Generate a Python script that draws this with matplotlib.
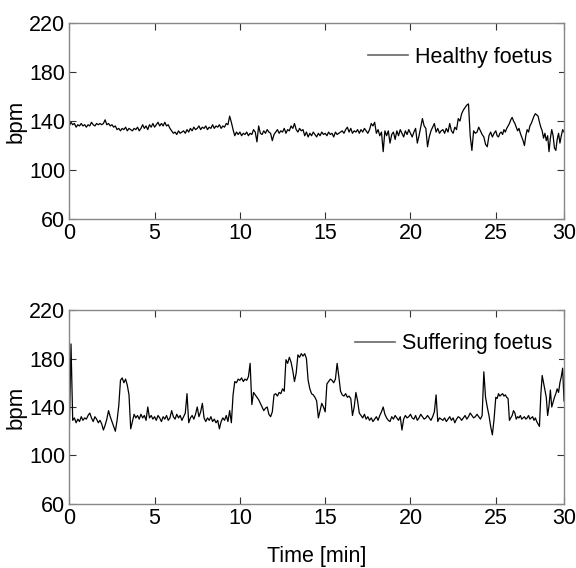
import numpy as np
import matplotlib.pyplot as plt

plt.rcParams['font.family'] = ['Liberation Sans', 'DejaVu Sans']

# heart rate, one value every 0.1 min, 0 .. 30 min
healthy = [
    136, 139, 137, 138, 135, 137, 136, 138, 136, 137,
    135, 137, 136, 139, 137, 136, 138, 137, 138, 137,
    138, 141, 137, 138, 136, 137, 135, 136, 133, 134,
    132, 134, 133, 135, 132, 134, 133, 132, 134, 133,
    135, 132, 134, 137, 134, 136, 133, 137, 135, 138,
    135, 137, 139, 136, 138, 136, 139, 136, 137, 134,
    132, 130, 131, 129, 132, 130, 131, 132, 130, 133,
    131, 134, 132, 135, 133, 134, 136, 133, 135, 134,
    136, 133, 135, 134, 137, 134, 136, 135, 137, 134,
    136, 135, 138, 137, 144, 139, 133, 128, 131, 129,
    131, 128, 130, 129, 131, 128, 130, 129, 133, 131,
    123, 136, 130, 129, 132, 130, 133, 131, 130, 124,
    129, 131, 133, 130, 132, 131, 134, 130, 133, 132,
    136, 134, 138, 133, 131, 134, 132, 133, 128, 131,
    127, 130, 128, 131, 129, 127, 130, 128, 131, 129,
    130, 128, 131, 129, 130, 127, 131, 129, 130, 131,
    132, 130, 133, 135, 131, 134, 130, 132, 131, 133,
    130, 133, 131, 134, 132, 130, 133, 138, 136, 139,
    130, 133, 128, 131, 115, 132, 128, 132, 122, 129,
    131, 125, 132, 128, 133, 130, 127, 132, 129, 133,
    130, 127, 131, 134, 122, 128, 135, 142, 136, 134,
    119, 127, 132, 135, 138, 131, 134, 130, 132, 133,
    130, 134, 131, 138, 132, 130, 135, 133, 142, 140,
    146, 149, 151, 153, 154, 128, 116, 132, 130, 131,
    135, 132, 129, 127, 121, 119, 128, 131, 127, 130,
    132, 128, 127, 130, 131, 129, 133, 131, 134, 136,
    138, 141, 143, 140, 138, 135, 132, 134, 130, 127,
    124, 120, 128, 133, 131, 136, 138, 141, 144, 146,
    145, 144, 139, 135, 132, 126, 130, 124, 128, 115,
    126, 133, 128, 118, 116, 125, 130, 122, 128, 133,
    131,
]

suffering = [
    118, 192, 129, 131, 127, 130, 128, 132, 129, 131,
    130, 133, 135, 131, 128, 132, 130, 127, 129, 126,
    121, 125, 130, 137, 132, 128, 124, 120, 129, 141,
    162, 164, 160, 163, 158, 150, 122, 128, 134, 131,
    133, 130, 134, 131, 133, 129, 140, 131, 133, 130,
    132, 129, 133, 131, 128, 132, 130, 133, 129, 131,
    137, 132, 130, 134, 131, 133, 129, 132, 135, 151,
    127, 131, 133, 130, 134, 140, 132, 136, 143, 131,
    128, 131, 129, 132, 128, 130, 127, 129, 122, 128,
    131, 129, 133, 128, 137, 127, 150, 161, 160, 163,
    162, 164, 161, 163, 162, 165, 176, 142, 152, 150,
    148, 146, 143, 140, 137, 139, 140, 134, 132, 136,
    150, 151, 149, 152, 151, 155, 153, 179, 176, 181,
    177, 170, 161, 168, 183, 181, 184, 182, 184, 180,
    162, 155, 151, 150, 148, 145, 131, 137, 143, 140,
    136, 159, 161, 163, 162, 160, 163, 176, 165, 153,
    150, 149, 151, 148, 149, 147, 133, 140, 152, 145,
    135, 133, 131, 134, 130, 132, 129, 131, 128, 130,
    132, 129, 133, 136, 140, 134, 131, 129, 128, 132,
    130, 133, 131, 129, 132, 121, 130, 133, 131, 132,
    134, 131, 130, 133, 129, 131, 134, 132, 130, 131,
    133, 131, 129, 132, 136, 150, 128, 131, 130, 129,
    131, 128, 130, 132, 129, 131, 127, 130, 132, 131,
    129, 131, 133, 130, 132, 135, 133, 131, 132, 134,
    132, 130, 133, 169, 148, 140, 133, 124, 117, 130,
    148, 147, 151, 149, 150, 151, 149, 150, 148, 147,
    129, 131, 133, 137, 135, 130, 132, 131, 133, 130,
    131, 132, 130, 131, 133, 130, 131, 132, 129, 131,
    128, 126, 124, 150, 166, 160, 154, 148, 133, 141,
    154, 140, 144, 148, 151, 155, 152, 160, 165, 172,
    145,
]

t = np.arange(len(healthy)) * 0.1
labels = ['Healthy foetus', 'Suffering foetus']


# the last 5 minutes of the original are squeezed on the axis
def fwd(x):
    x = np.asarray(x, dtype=float)
    return np.where(x <= 25, x, 25 + (x - 25) * 0.8)


def inv(y):
    y = np.asarray(y, dtype=float)
    return np.where(y <= 25, y, 25 + (y - 25) / 0.8)


fig = plt.figure(figsize=(5.76, 5.68), dpi=100)
ax1 = fig.add_axes([0.1203, 0.6144, 0.8589, 0.345])
ax2 = fig.add_axes([0.1203, 0.1127, 0.8589, 0.3415])

for ax, y, lab in zip([ax1, ax2], [healthy, suffering], labels):
    ax.plot(t, y, color='black', lw=0.9, label=lab)
    ax.set_xscale('function', functions=(fwd, inv))
    ax.set_xlim(0, 30)
    ax.set_ylim(60, 220)
    ax.set_xticks([0, 5, 10, 15, 20, 25, 30])
    ax.set_xticklabels(['0', '5', '10', '15', '20', '25', '30'])
    ax.set_yticks([60, 100, 140, 180, 220])
    ax.minorticks_off()
    ax.tick_params(direction='in', length=5, width=0.8, top=True, right=True,
                   labelsize=15.5, pad=3, color='#333333')
    for s in ax.spines.values():
        s.set_color('#888888')
        s.set_linewidth(1.0)
    ax.set_ylabel('bpm', fontsize=16, labelpad=2)
    leg = ax.legend(loc='upper right', bbox_to_anchor=(1.0, 0.94), fontsize=15.5,
                    frameon=True, fancybox=False, edgecolor='none',
                    facecolor='white', framealpha=1, handlelength=1.9,
                    handletextpad=0.3, borderaxespad=0.25, borderpad=0.3)
    leg.get_lines()[0].set_color('#666666')
    leg.get_lines()[0].set_linewidth(1.2)

ax2.set_xlabel('Time [min]', fontsize=15.5, labelpad=12)

fig.savefig('out.png', dpi=100)
